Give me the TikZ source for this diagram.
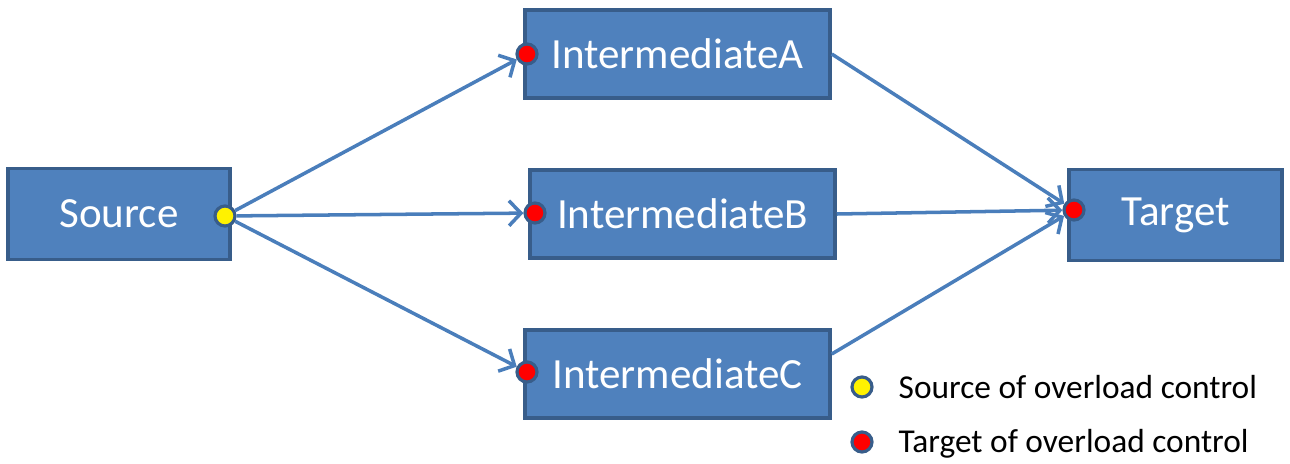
\documentclass[tikz,border=0pt]{standalone}
\usepackage{fontspec}
\setmainfont{Carlito}
\usetikzlibrary{arrows.meta}
\definecolor{boxfill}{HTML}{4F81BD}
\definecolor{boxline}{HTML}{385D8A}
\definecolor{arrowcol}{HTML}{4A7EBB}
\tikzset{
  block/.style={draw=boxline, fill=boxfill, line width=2pt, rectangle, text=white, font=\fontsize{24.5}{28}\selectfont, minimum height=1.76cm},
  srcdot/.style={draw=boxline, fill=yellow, line width=1.8pt, circle, inner sep=0pt, minimum size=0.4cm},
  tgtdot/.style={draw=boxline, fill=red, line width=1.8pt, circle, inner sep=0pt, minimum size=0.4cm},
  link/.style={draw=arrowcol, line width=2pt, -{Straight Barb[length=2.4mm,width=5mm]}}
}
\begin{document}
\begin{tikzpicture}[x=1cm,y=1cm]
\useasboundingbox (0,0) rectangle (25.8,-9.26);
\node[block, minimum width=4.44cm, minimum height=1.82cm] (src) at (2.38,-4.28) {Source};
\node[block, minimum width=6.1cm] (intA) at (13.55,-1.08) {IntermediateA};
\node[block, minimum width=6.1cm] (intB) at (13.65,-4.28) {IntermediateB};
\node[block, minimum width=6.1cm] (intC) at (13.55,-7.48) {IntermediateC};
\node[block, minimum width=4.26cm, minimum height=1.82cm] (tgt) at (23.51,-4.3) {Target};

\node[srcdot] (srcS) at (4.5,-4.32) {};
\node[tgtdot] (tgtA) at (10.54,-1.08) {};
\node[tgtdot] (tgtB) at (10.7,-4.26) {};
\node[tgtdot] (tgtC) at (10.54,-7.44) {};
\node[tgtdot] (tgtT) at (21.48,-4.2) {};

\draw[link] (srcS) -- (tgtA);
\draw[link] (srcS) -- (tgtB);
\draw[link] (srcS) -- (tgtC);
\draw[link] (intA.east) -- (tgtT);
\draw[link] (intB.east) -- (tgtT);
\draw[link] ([yshift=0.4cm]intC.east) -- (tgtT);

% legend
\node[srcdot] (legS) at (17.24,-7.74) {};
\node[tgtdot] (legT) at (17.24,-8.84) {};
\node[anchor=west, font=\fontsize{19}{22}\selectfont] (legSt) at (17.85,-7.74) {Source of overload control};
\node[anchor=west, font=\fontsize{19}{22}\selectfont] (legTt) at (17.85,-8.88) {Target of overload control};
\end{tikzpicture}
\end{document}
